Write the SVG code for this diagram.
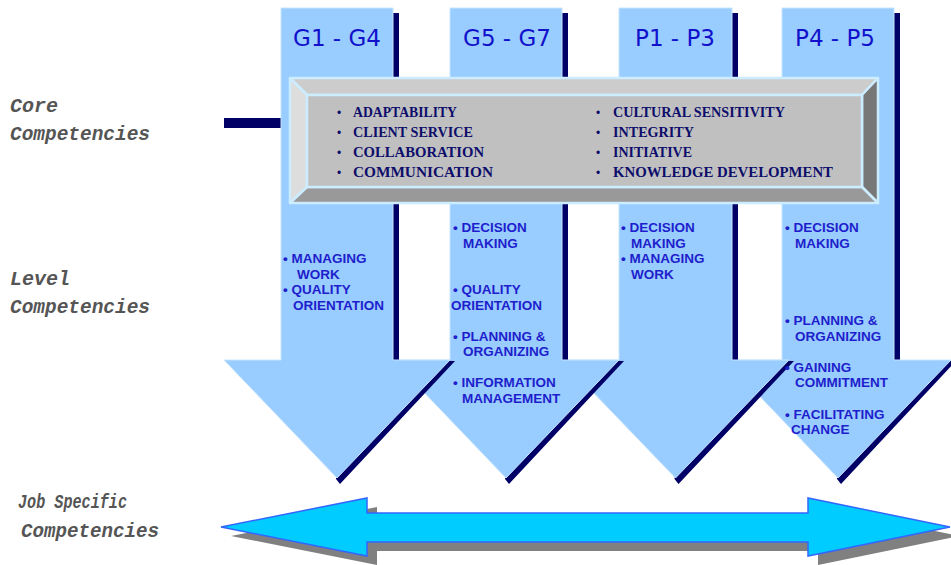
<svg xmlns="http://www.w3.org/2000/svg" width="951" height="565" viewBox="0 0 951 565">
<style>
.arr{fill:#99CCFF;stroke:#C6E4FF;stroke-width:1}
.shd{fill:#000066}
.hdr{font-family:"DejaVu Sans",Verdana,sans-serif;font-size:23px;fill:#1111CC;text-anchor:middle}
.lvl{font-family:"Liberation Sans",Arial,sans-serif;font-weight:bold;font-size:13.5px;fill:#1E1ECC}
.core{font-family:"Liberation Serif","Times New Roman",serif;font-weight:bold;font-size:14px;fill:#0D0D6B}
.bul{font-family:"Liberation Sans",Arial,sans-serif;font-size:12px;fill:#0D0D6B}
.side{font-family:"Liberation Mono","Courier New",monospace;font-style:italic;font-weight:bold;font-size:20px;fill:#555555}
.bev{stroke:#CCECFF;stroke-width:2.5;stroke-linejoin:round}
</style>
<rect width="951" height="565" fill="#FFFFFF"/>

<g id="labels">
<text class="side" x="10" y="112">Core</text>
<text class="side" x="10" y="140" textLength="140" lengthAdjust="spacingAndGlyphs">Competencies</text>
<text class="side" x="10" y="285">Level</text>
<text class="side" x="10" y="313" textLength="140" lengthAdjust="spacingAndGlyphs">Competencies</text>
<text class="side" x="18" y="508" textLength="109" lengthAdjust="spacingAndGlyphs">Job Specific</text>
<text class="side" x="21" y="537" textLength="138" lengthAdjust="spacingAndGlyphs">Competencies</text>
</g>

<g id="connectors">
<rect x="224" y="118" width="57" height="10" fill="#000066"/>
</g>

<g id="arrow-p4-p5">
<polygon class="shd" points="894,13 900,13 900,360 956,361 841,484 837,479"/>
<path class="arr" d="M782,8 H894 V360 H951 L838,478 L725,360 H782 Z"/>
<text class="hdr" x="835" y="46">P4 - P5</text>
</g>

<g id="arrow-p1-p3">
<polygon class="shd" points="732,13 738,13 738,360 794,361 678.5,484 674.5,479"/>
<path class="arr" d="M619,8 H732 V360 H789 L675.5,478 L562,360 H619 Z"/>
<text class="hdr" x="675" y="46">P1 - P3</text>
</g>

<g id="arrow-g5-g7">
<polygon class="shd" points="562,13 568,13 568,360 624,361 509,484 505,479"/>
<path class="arr" d="M450,8 H562 V360 H619 L506,478 L393,360 H450 Z"/>
<text class="hdr" x="507" y="46">G5 - G7</text>
</g>

<g id="arrow-g1-g4">
<polygon class="shd" points="393,13 399,13 399,360 455,361 340,484 336,479"/>
<path class="arr" d="M281,8 H393 V360 H450 L337,478 L224,360 H281 Z"/>
<text class="hdr" x="337" y="46">G1 - G4</text>
</g>

<g id="level-text">
<text class="lvl" x="283" y="263">• MANAGING</text>
<text class="lvl" x="297" y="279">WORK</text>
<text class="lvl" x="283" y="294">• QUALITY</text>
<text class="lvl" x="293" y="310">ORIENTATION</text>

<text class="lvl" x="453" y="232">• DECISION</text>
<text class="lvl" x="463" y="248">MAKING</text>
<text class="lvl" x="453" y="294">• QUALITY</text>
<text class="lvl" x="451" y="310">ORIENTATION</text>
<text class="lvl" x="453" y="341">• PLANNING &amp;</text>
<text class="lvl" x="463" y="356">ORGANIZING</text>
<text class="lvl" x="453" y="387">• INFORMATION</text>
<text class="lvl" x="462" y="403">MANAGEMENT</text>

<text class="lvl" x="621" y="232">• DECISION</text>
<text class="lvl" x="631" y="248">MAKING</text>
<text class="lvl" x="621" y="263">• MANAGING</text>
<text class="lvl" x="631" y="279">WORK</text>

<text class="lvl" x="785" y="232">• DECISION</text>
<text class="lvl" x="795" y="248">MAKING</text>
<text class="lvl" x="785" y="325">• PLANNING &amp;</text>
<text class="lvl" x="795" y="341">ORGANIZING</text>
<text class="lvl" x="785" y="372">• GAINING</text>
<text class="lvl" x="795" y="387">COMMITMENT</text>
<text class="lvl" x="785" y="419">• FACILITATING</text>
<text class="lvl" x="791" y="434">CHANGE</text>
</g>

<g id="core-box">
<polygon class="bev" fill="#CCCCCC" points="290,78 878,78 862,95 307,95"/>
<polygon class="bev" fill="#DDDDDD" points="290,78 307,95 307,187 290,203"/>
<polygon class="bev" fill="#777777" points="878,78 878,203 862,187 862,95"/>
<polygon class="bev" fill="#999999" points="290,203 307,187 862,187 878,203"/>
<rect class="bev" fill="#C0C0C0" x="307" y="95" width="555" height="92"/>
<text class="bul" x="337" y="117">•</text>
<text class="bul" x="337" y="137">•</text>
<text class="bul" x="337" y="157">•</text>
<text class="bul" x="337" y="177">•</text>
<text class="bul" x="596" y="117">•</text>
<text class="bul" x="596" y="137">•</text>
<text class="bul" x="596" y="157">•</text>
<text class="bul" x="596" y="177">•</text>
<text class="core" x="353" y="117" textLength="104" lengthAdjust="spacingAndGlyphs">ADAPTABILITY</text>
<text class="core" x="353" y="137" textLength="120" lengthAdjust="spacingAndGlyphs">CLIENT SERVICE</text>
<text class="core" x="353" y="157" textLength="131" lengthAdjust="spacingAndGlyphs">COLLABORATION</text>
<text class="core" x="353" y="177" textLength="140" lengthAdjust="spacingAndGlyphs">COMMUNICATION</text>
<text class="core" x="613" y="117" textLength="172" lengthAdjust="spacingAndGlyphs">CULTURAL SENSITIVITY</text>
<text class="core" x="613" y="137" textLength="81" lengthAdjust="spacingAndGlyphs">INTEGRITY</text>
<text class="core" x="613" y="157" textLength="79" lengthAdjust="spacingAndGlyphs">INITIATIVE</text>
<text class="core" x="613" y="177" textLength="220" lengthAdjust="spacingAndGlyphs">KNOWLEDGE DEVELOPMENT</text>
</g>

<g id="job-arrow">
<path transform="translate(10,9)" fill="#808080" d="M221,527 L367,498 V513 H808 V498 L950,527 L808,556 V542 H367 V556 Z"/>
<path fill="#00CCFF" stroke="#3366FF" stroke-width="1.5" stroke-linejoin="miter" d="M221,527 L367,498 V513 H808 V498 L950,527 L808,556 V542 H367 V556 Z"/>
</g>
</svg>
